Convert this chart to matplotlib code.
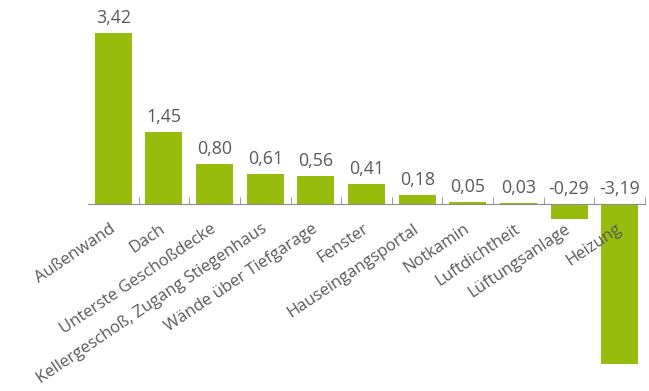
import matplotlib.pyplot as plt
import numpy as np

# Werte aus dem Diagramm
kategorien = ["Außenwand", "Dach", "Unterste Geschoßdecke",
              "Kellergeschoß, Zugang Stiegenhaus", "Wände über Tiefgarage",
              "Fenster", "Hauseingangsportal", "Notkamin", "Luftdichtheit",
              "Lüftungsanlage", "Heizung"]
werte = [3.42, 1.45, 0.80, 0.61, 0.56, 0.41, 0.18, 0.05, 0.03, -0.29, -3.19]

gruen = "#98BC0E"
grau = "#595959"
plt.rcParams['font.family'] = ['Open Sans', 'DejaVu Sans']

fig = plt.figure(figsize=(6.49, 3.91), dpi=100)
ax = fig.add_axes([88 / 649, (391 - 364) / 391, (645 - 88) / 649, (364 - 33) / 391])

x = np.arange(len(kategorien))
ax.bar(x, werte, width=0.73, color=gruen)
ax.set_xlim(-0.5, len(kategorien) - 0.5)
ax.set_ylim(-3.19, 3.42)

# Werte-Beschriftung
for xi, v in zip(x, werte):
    ax.text(xi, max(v, 0) + 0.12, f"{v:.2f}".replace(".", ","), ha="center",
            va="bottom", fontsize=12.8, color=grau, clip_on=False)

# Achsen
for s in ["left", "right", "top"]:
    ax.spines[s].set_visible(False)
ax.spines["bottom"].set_position(("data", 0))
ax.spines["bottom"].set_color("#8c8c8c")
ax.set_yticks([])
ax.set_xticks(x)
ax.set_xticklabels([])
ax.tick_params(axis="x", which="major", length=0)
ax.set_xticks(np.arange(0.5, len(kategorien), 1), minor=True)
ax.tick_params(axis="x", which="minor", direction="in", length=5, color="#8c8c8c")

# Kategorie-Beschriftung
for xi, k in zip(x, kategorien):
    ax.annotate(k, xy=(xi, 0), xytext=(-3, -12), textcoords="offset points",
                ha="right", va="top", rotation=34, rotation_mode="anchor",
                fontsize=12, color=grau)

fig.savefig("out.png", dpi=100)
